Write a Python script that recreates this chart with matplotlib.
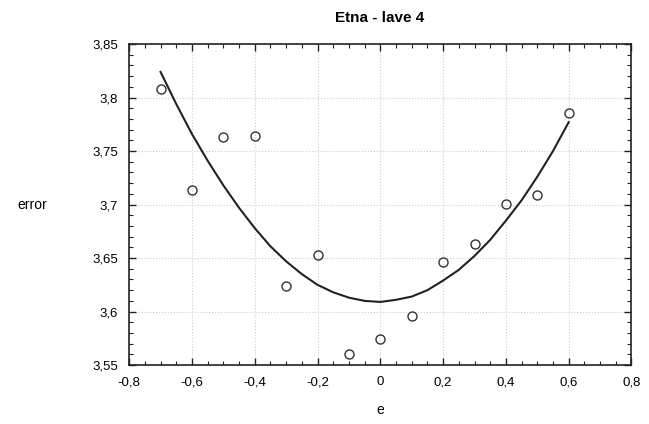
import matplotlib
matplotlib.use("Agg")
import matplotlib.pyplot as plt
from matplotlib.ticker import MultipleLocator, FuncFormatter

plt.rcParams['font.family'] = ['Liberation Sans', 'DejaVu Sans']

# measured points
e_pts = [-0.7, -0.6, -0.5, -0.4, -0.3, -0.2, -0.1, 0.0, 0.1, 0.2, 0.3, 0.4, 0.5, 0.6]
err_pts = [3.808, 3.714, 3.763, 3.764, 3.624, 3.653, 3.560, 3.574, 3.596, 3.646,
           3.663, 3.701, 3.709, 3.786]

# fitted curve
e_fit = [-0.70, -0.65, -0.60, -0.55, -0.50, -0.45, -0.40, -0.35, -0.30, -0.25,
         -0.20, -0.15, -0.10, -0.05, 0.00, 0.05, 0.10, 0.15, 0.20, 0.25,
         0.30, 0.35, 0.40, 0.45, 0.50, 0.55, 0.60]
err_fit = [3.824, 3.794, 3.766, 3.741, 3.718, 3.697, 3.678, 3.661, 3.647, 3.635,
           3.625, 3.618, 3.613, 3.610, 3.609, 3.611, 3.614, 3.620, 3.629, 3.639,
           3.652, 3.667, 3.685, 3.704, 3.726, 3.750, 3.777]


def comma(v, pos):
    s = ('%.2f' % v).rstrip('0').rstrip('.')
    if s == '-0':
        s = '0'
    return s.replace('.', ',')


fig = plt.figure(figsize=(6.49, 4.24), dpi=100)
ax = fig.add_axes([0.199, 0.139, 0.774, 0.757])

ax.plot(e_fit, err_fit, color='#222222', lw=1.5, zorder=3)
ax.plot(e_pts, err_pts, 'o', ms=6.5, mfc='none', mec='#333333', mew=1.0, zorder=4)

ax.set_xlim(-0.8, 0.8)
ax.set_ylim(3.55, 3.85)
ax.xaxis.set_major_locator(MultipleLocator(0.2))
ax.xaxis.set_minor_locator(MultipleLocator(0.05))
ax.yaxis.set_major_locator(MultipleLocator(0.05))
ax.yaxis.set_minor_locator(MultipleLocator(0.01))
ax.xaxis.set_major_formatter(FuncFormatter(comma))
ax.yaxis.set_major_formatter(FuncFormatter(comma))

ax.tick_params(which='both', direction='in', top=True, right=True,
               labelsize=9.5, color='#222222')
ax.tick_params(which='major', length=5, width=1, pad=8)
ax.tick_params(which='minor', length=3, width=0.8)
for s in ax.spines.values():
    s.set_linewidth(1.2)
    s.set_color('#222222')

ax.grid(True, which='major', linestyle=':', color='#cccccc', lw=0.8)

fig.text(0.585, 0.958, 'Etna - lave 4', fontsize=11, fontweight='bold',
         ha='center', va='center')
ax.set_xlabel('e', fontsize=10)
ax.xaxis.set_label_coords(0.5, -0.14)
ax.xaxis.label.set_va('center')
ax.set_ylabel('error', fontsize=10, rotation=0, ha='center', va='center')
ax.yaxis.set_label_coords(-0.193, 0.5)

fig.savefig('out.png', dpi=100)
